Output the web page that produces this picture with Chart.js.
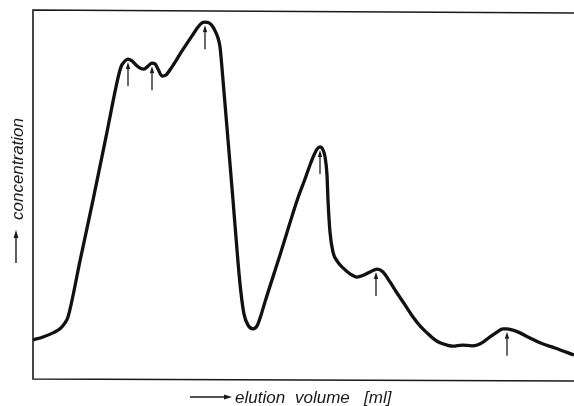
<!DOCTYPE html>
<html>
<head>
<meta charset="utf-8">
<style>
  html, body { margin: 0; padding: 0; background: #fff; }
  #wrap { width: 574px; height: 406px; position: relative; }
</style>
<script src="https://cdn.jsdelivr.net/npm/chart.js@4/dist/chart.umd.min.js"></script>
</head>
<body>
<div id="wrap"><canvas id="c" width="574" height="406"></canvas></div>
<script>
// Elution profile: volume (ml, relative) vs. concentration (relative units)
const volume = [
  0.0, 1.0, 2.0, 2.7, 3.2, 3.5, 4.7, 6.0, 7.3, 8.5,
  8.8, 9.1, 9.5, 9.9, 10.3, 10.7, 11.1, 11.5, 11.9, 12.2,
  12.5, 12.9, 13.3, 13.9, 14.9, 15.9, 16.5, 16.9, 17.2, 17.6,
  18.0, 18.3, 18.5, 18.7, 19.0, 19.5, 20.0, 20.5, 20.8, 21.1,
  21.5, 22.0, 22.4, 22.8, 23.2, 24.7, 26.5, 27.2, 27.7, 28.1,
  28.4, 28.7, 29.0, 29.2, 29.4, 29.5, 29.7, 30.0, 30.4, 31.0,
  31.7, 32.4, 33.1, 33.7, 34.4, 35.0, 35.7, 36.4, 37.2, 38.0,
  38.7, 39.4, 40.1, 40.7, 41.4, 42.0, 42.9, 43.9, 44.5, 45.0,
  45.7, 46.4, 47.0, 47.4, 47.9, 48.7, 49.7, 50.7, 52.2, 54.1
];
const concentration = [
  10.6, 11.4, 12.5, 13.6, 15.2, 16.8, 32.0, 48.5, 65.6, 81.6,
  84.6, 85.9, 86.7, 86.2, 85.1, 84.3, 84.0, 84.8, 85.6, 85.4,
  84.0, 82.1, 82.4, 84.6, 88.9, 93.0, 95.4, 96.5, 96.7, 96.5,
  95.4, 93.8, 92.4, 90.0, 81.0, 64.8, 48.5, 31.7, 23.3, 17.6,
  14.6, 13.6, 14.4, 17.3, 20.9, 33.6, 49.1, 54.2, 58.0, 60.7,
  62.3, 62.9, 62.1, 60.2, 55.3, 48.5, 39.8, 34.4, 32.0, 30.1,
  28.5, 27.6, 28.2, 29.0, 29.8, 29.0, 26.3, 23.3, 20.1, 16.8,
  14.4, 12.5, 10.8, 9.8, 9.2, 8.9, 9.2, 9.0, 9.3, 10.0,
  11.4, 12.7, 13.6, 13.6, 13.3, 12.5, 11.1, 9.8, 8.4, 6.5
];

// Fractions marked by arrows under each maximum
const peakVolume = [9.5, 11.9, 17.2, 28.7, 34.3, 47.4];
const peakConcentration = [86.7, 85.6, 96.7, 62.9, 29.8, 13.6];

const xTitle = ['elution', 'volume', '[ml]'];
const yTitle = 'concentration';

const profile = volume.map((v, i) => ({ x: v, y: concentration[i] }));

function arrow(ctx, x1, y1, x2, y2, head, half) {
  const a = Math.atan2(y2 - y1, x2 - x1);
  const bx = x2 - head * Math.cos(a), by = y2 - head * Math.sin(a);
  ctx.beginPath();
  ctx.moveTo(x1, y1);
  ctx.lineTo(bx, by);
  ctx.stroke();
  ctx.beginPath();
  ctx.moveTo(x2, y2);
  ctx.lineTo(bx + half * Math.sin(a), by - half * Math.cos(a));
  ctx.lineTo(bx - half * Math.sin(a), by + half * Math.cos(a));
  ctx.closePath();
  ctx.fill();
}

const framePlugin = {
  id: 'frame',
  beforeDatasetsDraw(chart) {
    const { ctx, chartArea: a } = chart;
    ctx.save();
    ctx.strokeStyle = '#1a1a1a';
    ctx.lineWidth = 1.6;
    ctx.beginPath();
    ctx.moveTo(a.right, a.top + 3);
    ctx.lineTo(a.left, a.top);
    ctx.lineTo(a.left, a.bottom);
    ctx.lineTo(a.right, a.bottom + 2);
    ctx.stroke();
    ctx.restore();
  },
  afterDatasetsDraw(chart) {
    const { ctx, scales } = chart;
    ctx.save();
    ctx.strokeStyle = '#1a1a1a';
    ctx.fillStyle = '#1a1a1a';
    ctx.lineWidth = 1.3;
    // peak arrows
    peakVolume.forEach((v, i) => {
      const px = scales.x.getPixelForValue(v);
      const py = scales.y.getPixelForValue(peakConcentration[i]) + 3;
      arrow(ctx, px, py + 24, px, py, 7, 2.2);
    });

    // axis titles
    ctx.lineWidth = 1.4;
    arrow(ctx, 190, 397, 232, 397, 8, 2.4);
    ctx.font = 'italic 17px "Liberation Sans", Arial, sans-serif';
    ctx.textBaseline = 'alphabetic';
    ctx.textAlign = 'left';
    ctx.fillText(xTitle[0], 235, 403);
    ctx.fillText(xTitle[1], 295, 403);
    ctx.fillText(xTitle[2], 364, 403);

    arrow(ctx, 16, 263, 16, 230, 8, 2.4);
    ctx.save();
    ctx.translate(23, 169);
    ctx.rotate(-Math.PI / 2);
    ctx.textAlign = 'center';
    ctx.fillText(yTitle, 0, 0);
    ctx.restore();
    ctx.restore();
  }
};

new Chart(document.getElementById('c'), {
  type: 'line',
  data: {
    datasets: [{
      data: profile,
      borderColor: '#111',
      borderWidth: 3.3,
      pointRadius: 0,
      cubicInterpolationMode: 'monotone',
      fill: false
    }]
  },
  options: {
    responsive: false,
    animation: false,
    devicePixelRatio: 1,
    layout: { padding: { left: 33, top: 10, right: 0, bottom: 27 } },
    plugins: { legend: { display: false }, tooltip: { enabled: false } },
    scales: {
      x: { type: 'linear', min: 0, max: 54.1, display: false },
      y: { type: 'linear', min: 0, max: 100, display: false }
    }
  },
  plugins: [framePlugin]
});
</script>
</body>
</html>
